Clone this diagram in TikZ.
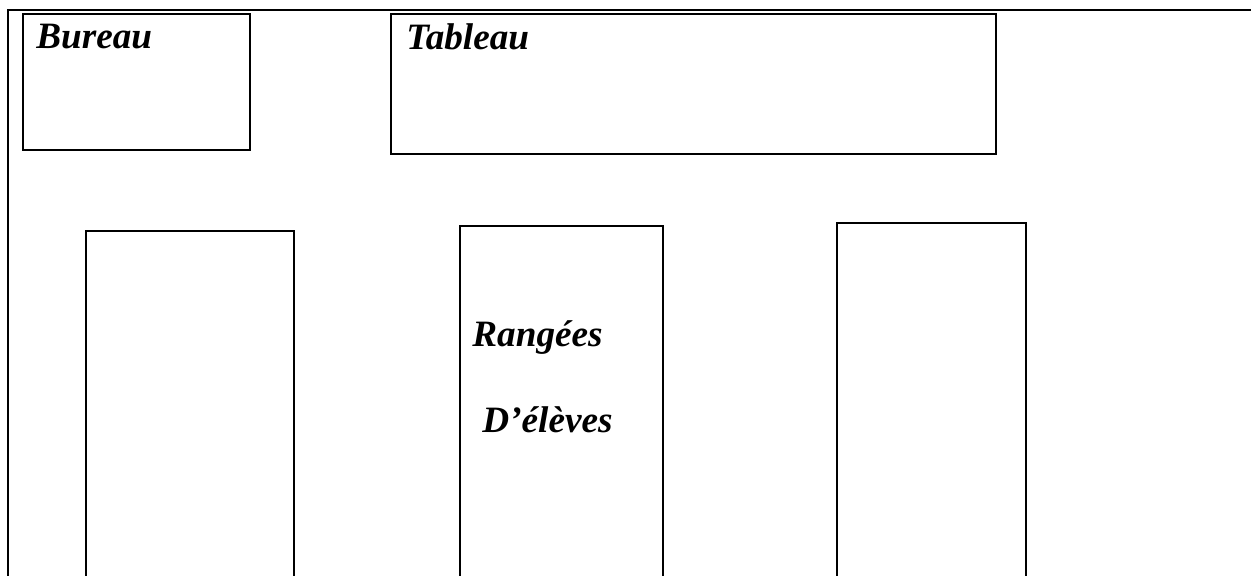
\documentclass[tikz,border=0pt]{standalone}
\usepackage{fontspec}
\setmainfont{Liberation Serif}
\usetikzlibrary{positioning}

\begin{document}
\begin{tikzpicture}[
x=0.5pt,y=-0.5pt,
wall/.style={
  draw,
  line width=1.4pt
  },
furniture/.style={
  draw,
  line width=1.4pt
  },
tag/.style={
  anchor=base west,
  inner sep=0pt,
  font=\fontsize{18.6}{22}\selectfont\bfseries\itshape
  }
]
\useasboundingbox (0,0) rectangle (1251,576);
% classroom walls (left and front)
\draw[wall] (8,576) |- (1251,10);
% desk and board
\draw[furniture] (23,14) rectangle (250,150);
\draw[furniture] (391,14) rectangle (996,154);
\node[tag] (bureau) at (36,49) {Bureau};
\node[tag] (tableau) at (406,50) {Tableau};
% rows of pupils
\foreach \xl/\xr/\yt in {86/294/231, 460/663/226, 837/1026/223}
  \draw[furniture] (\xl,576) |- (\xr,\yt) -- (\xr,576);
\node[tag] (rangees) at (472,347) {Rangées};
\node[tag] (eleves) at (482,432) {D’élèves};
\end{tikzpicture}
\end{document}
